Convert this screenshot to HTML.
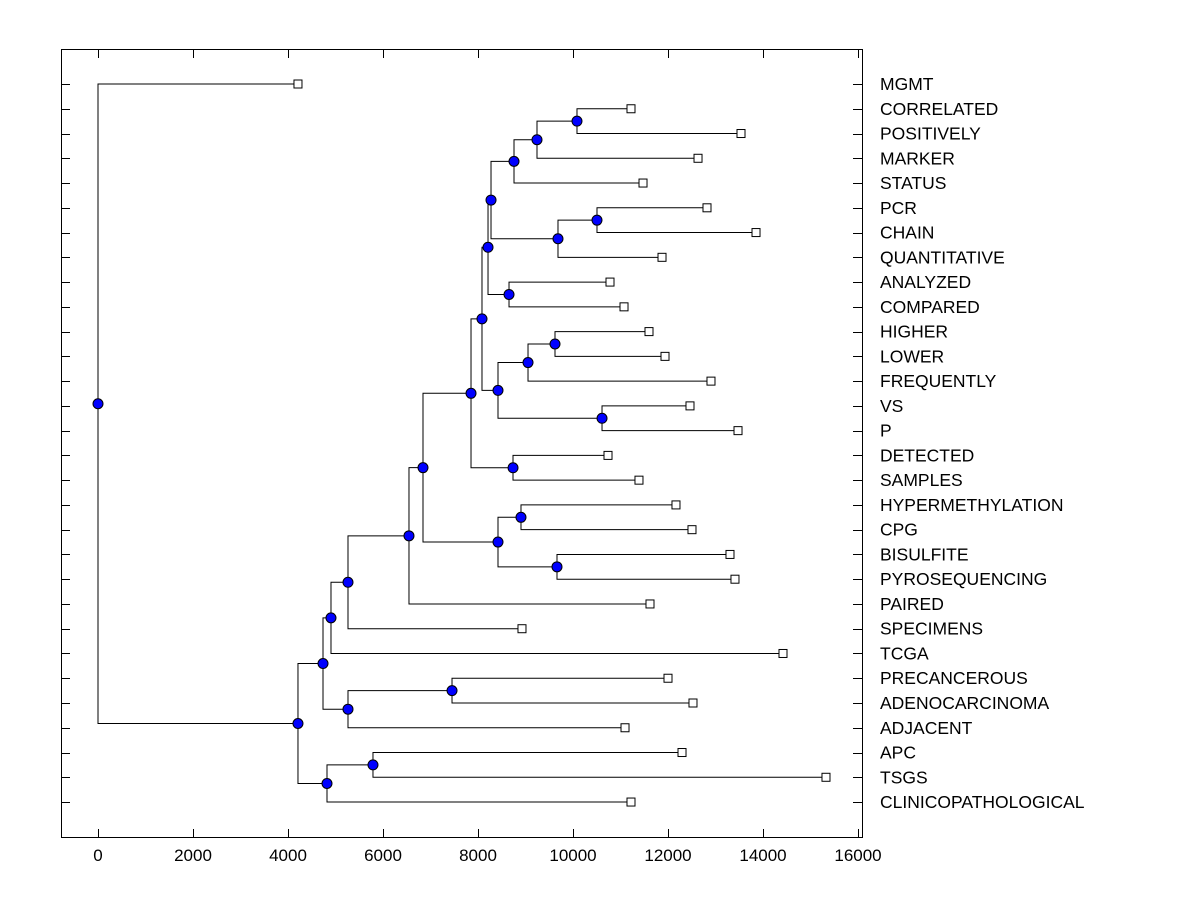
<!DOCTYPE html>
<html><head><meta charset="utf-8"><style>
body{margin:0;background:#fff}
svg text{font-family:"Liberation Sans",Arial,sans-serif}
</style></head><body>
<svg id="chart" width="1200" height="900" xmlns="http://www.w3.org/2000/svg"></svg>
<script>
const labels=["MGMT","CORRELATED","POSITIVELY","MARKER","STATUS","PCR","CHAIN","QUANTITATIVE","ANALYZED","COMPARED","HIGHER","LOWER","FREQUENTLY","VS","P","DETECTED","SAMPLES","HYPERMETHYLATION","CPG","BISULFITE","PYROSEQUENCING","PAIRED","SPECIMENS","TCGA","PRECANCEROUS","ADENOCARCINOMA","ADJACENT","APC","TSGS","CLINICOPATHOLOGICAL"];
const leafValues=[4210,11221,13537,12632,11474,12821,13853,11874,10779,11074,11600,11937,12905,12463,13474,10737,11389,12168,12505,13305,13410,11621,8926,14421,12000,12526,11095,12295,15326,11221];
const xTicks=[0,2000,4000,6000,8000,10000,12000,14000,16000];
// merges: [height, childA, childB]; child = leaf index number or node name string
const merges={
AB:[10084,1,2],AA:[9242,"AB",3],X:[8758,"AA",4],
Z:[10505,5,6],Y:[9684,"Z",7],V:[8274,"X","Y"],
W:[8653,8,9],Q:[8211,"V","W"],
U:[9621,10,11],S:[9053,"U",12],T:[10611,13,14],R:[8421,"S","T"],
O:[8084,"Q","R"],P:[8737,15,16],K:[7853,"O","P"],
M:[8905,17,18],N:[9663,19,20],L:[8421,"M","N"],
J:[6842,"K","L"],I:[6547,"J",21],H:[5263,"I",22],E:[4905,"H",23],
G:[7453,24,25],F:[5263,"G",26],B:[4737,"E","F"],
D:[5789,27,28],C:[4821,"D",29],A:[4210,"B","C"],
root:[0,0,"A"]};
const svg=document.getElementById('chart');
const NS="http://www.w3.org/2000/svg";
const X0=98,SC=760/16000,Y0=84,DY=24.76;
const xs=v=>X0+v*SC, ys=i=>Y0+i*DY;
function el(t,a,p){const e=document.createElementNS(NS,t);for(const k in a)e.setAttribute(k,a[k]);(p||svg).appendChild(e);return e;}
const frame=el('rect',{x:61.5,y:49.5,width:801,height:788,fill:'none',stroke:'#000','stroke-width':1});


labels.forEach((l,i)=>{
 const y=Math.round(ys(i))+0.5;
 const t1=el('line',{x1:61,x2:70,y1:y,y2:y,stroke:'#000'});
 
 
 const t2=el('line',{x1:853,x2:862,y1:y,y2:y,stroke:'#000'});
 
 
 const tx=el('text',{x:880,y:ys(i)+6,'font-size':17.5,fill:'#000'});tx.textContent=l;
 
 
});
xTicks.forEach(v=>{
 const x=Math.round(xs(v))+0.5;
 const a=el('line',{x1:x,x2:x,y1:829,y2:838,stroke:'#000'});
 
 
 const b=el('line',{x1:x,x2:x,y1:49,y2:58,stroke:'#000'});
 
 
 const t=el('text',{x:xs(v),y:861,'font-size':17,'text-anchor':'middle'});t.textContent=v;
 
 
});
const lineG=el('g',{stroke:'#000','stroke-width':1,fill:'none'});


const markG=el('g',{});


const pos={};
function node(c){
 if(typeof c==='number')return {x:xs(leafValues[c]),y:ys(c),leaf:true};
 if(pos[c])return pos[c];
 const m=merges[c];const a=node(m[1]),b=node(m[2]);
 const x=xs(m[0]),y=(a.y+b.y)/2;
 const p=el('path',{d:`M${a.x},${a.y}H${x}V${b.y}H${b.x}`},lineG);
 
 
 pos[c]={x,y,leaf:false};return pos[c];
}
node('root');
leafValues.forEach((v,i)=>{
 const r=el('rect',{x:xs(v)-4,y:ys(i)-4,width:8,height:8,fill:'#fff',stroke:'#000'},markG);
 
 
});
for(const k in pos){
 const c=el('circle',{cx:pos[k].x,cy:pos[k].y,r:5,fill:'#0000ff',stroke:'#000'},markG);
 
 
}
</script>
</body></html>
